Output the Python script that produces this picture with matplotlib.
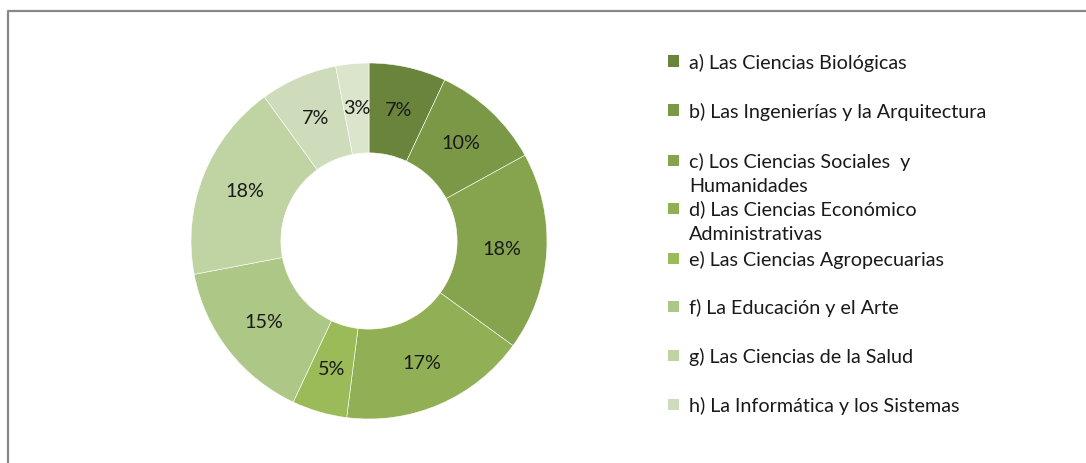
import matplotlib
matplotlib.use("Agg")
import matplotlib.pyplot as plt
from matplotlib.lines import Line2D
from matplotlib.patches import Rectangle

labels = [
    "a) Las Ciencias Biológicas",
    "b) Las Ingenierías y la Arquitectura",
    "c) Los Ciencias Sociales  y\nHumanidades",
    "d) Las Ciencias Económico\nAdministrativas",
    "e) Las Ciencias Agropecuarias",
    "f) La Educación y el Arte",
    "g) Las Ciencias de la Salud",
    "h) La Informática y los Sistemas",
    "",
]
values = [7, 10, 18, 17, 5, 15, 18, 7, 3]
colors = ["#6a843c", "#7b9847", "#86a44e", "#91b055", "#9bbb59",
          "#adc787", "#bfd3a3", "#cfdcbb", "#dbe5cc"]

W, H = 1086, 463
fig = plt.figure(figsize=(W / 100, H / 100), dpi=100)
fig.patch.set_facecolor("white")

# border
fig.add_artist(Line2D([8 / W, 8 / W, 1.0], [0, (H - 11) / H, (H - 11) / H],
                      transform=fig.transFigure, color="#878787", lw=1.6))

cx, cy, R = 369, 241, 178
ax = fig.add_axes([(cx - R) / W, (H - cy - R) / H, 2 * R / W, 2 * R / H])
wedges, texts, autotexts = ax.pie(
    values, colors=colors, startangle=90, counterclock=False, radius=1.0,
    autopct=lambda p: f"{p:.0f}%", pctdistance=0.75,
    wedgeprops=dict(width=0.505, edgecolor="white", linewidth=0.4),
    textprops=dict(fontsize=14.2, color="#1a1a1a", family="Lato"))
ax.set_xlim(-1, 1)
ax.set_ylim(-1, 1)
ax.set_aspect("equal")
ax.axis("off")

# legend
sq = 11
tops = [61, 110, 160, 208, 258, 306, 355, 404]
for i in range(8):
    ytop = tops[i]
    fig.add_artist(Rectangle(((673 - sq / 2) / W, (H - ytop - sq / 2) / H), sq / W, sq / H,
                             transform=fig.transFigure, color=colors[i], lw=0))
    for j, line in enumerate(labels[i].split("\n")):
        fig.text(689 / W, (H - ytop - 25 * j) / H, line, ha="left", va="center_baseline",
                 fontsize=14.2, family="Lato", color="#1a1a1a")

fig.savefig("out.png", dpi=100)
